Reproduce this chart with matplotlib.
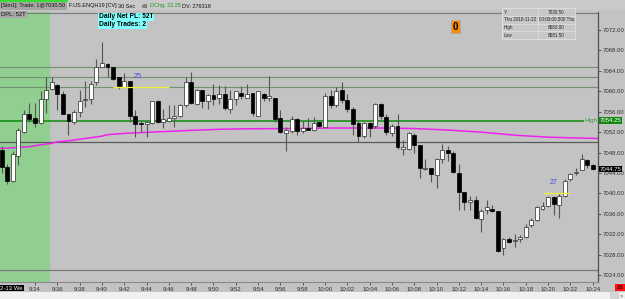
import matplotlib
matplotlib.use("Agg")
import matplotlib.pyplot as plt
import matplotlib.transforms as mtransforms
from matplotlib.patches import Rectangle

plt.rcParams["font.family"] = ["Liberation Sans", "DejaVu Sans"]

W, H = 625, 299

# 30 sec bars of F.US.ENQH19, first bar 9:31
opens = [7048.5, 7045.25, 7042.5, 7047.25, 7052.0, 7055.5, 7054.75, 7053.75, 7058.5, 7060.5,
         7061.25, 7059.5, 7055.5, 7054.0, 7056.0, 7058.25, 7058.5, 7061.75, 7064.75, 7065.25,
         7064.75, 7062.75, 7060.75, 7062.0, 7055.25, 7053.75, 7053.5, 7053.75, 7058.0, 7054.0,
         7054.25, 7054.75, 7055.25, 7057.25, 7061.75, 7057.5, 7060.25, 7058.0, 7059.25, 7058.75,
         7059.5, 7056.5, 7058.5, 7059.75, 7058.75, 7059.75, 7055.25, 7059.5, 7058.75, 7058.75,
         7054.75, 7051.75, 7052.25, 7054.5, 7052.25, 7052.75, 7052.5, 7054.0, 7053.0, 7059.0,
         7057.25, 7060.25, 7058.25, 7056.5, 7053.75, 7051.25, 7053.75, 7053.25, 7057.5, 7055.0,
         7051.75, 7053.25, 7048.75, 7048.75, 7051.5, 7049.5, 7044.75, 7045.0, 7043.5, 7046.75,
         7048.5, 7048.0, 7044.0, 7040.25, 7038.25, 7038.75, 7035.0, 7036.75, 7037.0, 7036.5,
         7029.25, 7031.0, 7030.75, 7031.0, 7031.5, 7033.75, 7034.75, 7037.0, 7037.5, 7039.25,
         7037.75, 7039.5, 7042.75, 7044.0, 7044.5, 7046.5, 7045.5]
highs = [7049.25, 7045.75, 7048.25, 7052.75, 7056.25, 7057.75, 7057.75, 7060.0, 7062.75, 7062.75,
         7061.5, 7060.0, 7055.5, 7056.25, 7060.25, 7062.0, 7062.0, 7066.25, 7069.75, 7065.5,
         7064.75, 7062.75, 7063.5, 7062.0, 7056.25, 7054.25, 7054.25, 7058.0, 7058.25, 7056.5,
         7057.25, 7057.25, 7057.5, 7062.75, 7063.75, 7060.5, 7060.25, 7059.5, 7061.5, 7061.25,
         7061.0, 7060.25, 7060.0, 7061.0, 7061.5, 7059.75, 7060.0, 7059.75, 7063.0, 7058.75,
         7056.25, 7053.0, 7055.25, 7054.75, 7054.25, 7054.75, 7055.0, 7054.0, 7059.75, 7060.25,
         7060.75, 7061.75, 7059.5, 7057.0, 7054.25, 7054.0, 7054.0, 7057.75, 7057.75, 7055.5,
         7053.5, 7055.5, 7050.5, 7052.0, 7051.75, 7049.5, 7046.75, 7045.0, 7047.0, 7049.75,
         7049.25, 7048.25, 7045.75, 7040.25, 7039.5, 7039.5, 7037.0, 7038.75, 7037.75, 7036.5,
         7031.25, 7031.5, 7032.0, 7031.75, 7034.0, 7035.25, 7037.5, 7038.25, 7039.5, 7039.5,
         7040.0, 7042.75, 7044.0, 7045.0, 7047.75, 7046.75, 7045.75]
lows = [7044.0, 7041.75, 7042.25, 7045.5, 7051.75, 7054.0, 7053.0, 7053.5, 7055.75, 7060.25,
        7056.25, 7055.5, 7051.5, 7053.5, 7055.0, 7057.0, 7057.5, 7061.25, 7064.75, 7062.75,
        7062.25, 7060.5, 7060.75, 7054.0, 7051.0, 7052.0, 7051.0, 7053.5, 7053.75, 7052.75,
        7054.0, 7053.0, 7055.0, 7057.0, 7057.5, 7057.25, 7056.75, 7056.5, 7057.25, 7057.5,
        7056.25, 7055.75, 7057.25, 7058.5, 7058.75, 7055.25, 7055.25, 7058.0, 7058.0, 7054.0,
        7051.75, 7048.25, 7051.75, 7051.5, 7051.75, 7052.5, 7052.25, 7053.0, 7053.0, 7056.75,
        7057.0, 7057.75, 7056.0, 7051.5, 7050.0, 7050.75, 7051.0, 7052.75, 7054.5, 7051.5,
        7051.25, 7048.75, 7047.5, 7048.5, 7048.0, 7043.0, 7044.5, 7042.25, 7041.0, 7046.0,
        7046.25, 7044.0, 7036.75, 7036.75, 7036.75, 7035.0, 7032.5, 7036.0, 7036.25, 7028.5,
        7028.0, 7030.25, 7029.5, 7030.5, 7031.25, 7033.5, 7034.5, 7036.75, 7037.25, 7035.75,
        7035.25, 7039.25, 7042.5, 7043.5, 7044.5, 7045.0, 7044.5]
closes = [7045.25, 7042.5, 7047.75, 7052.5, 7055.5, 7054.5, 7053.75, 7058.5, 7060.25, 7061.75,
          7059.5, 7055.5, 7054.25, 7056.0, 7058.0, 7058.5, 7061.5, 7064.75, 7065.5, 7064.75,
          7062.5, 7061.0, 7062.0, 7055.25, 7053.5, 7053.5, 7054.0, 7058.0, 7054.0, 7054.5,
          7054.75, 7055.25, 7057.25, 7061.75, 7057.75, 7060.25, 7058.0, 7059.25, 7058.5, 7059.5,
          7056.75, 7058.5, 7060.0, 7059.0, 7059.5, 7055.75, 7060.0, 7058.75, 7059.0, 7054.5,
          7052.0, 7052.5, 7054.5, 7052.25, 7052.75, 7052.5, 7053.75, 7053.25, 7059.0, 7057.25,
          7060.0, 7058.25, 7056.5, 7053.5, 7051.25, 7053.75, 7052.75, 7057.5, 7055.25, 7052.0,
          7053.25, 7049.0, 7049.0, 7051.75, 7049.5, 7045.0, 7045.0, 7043.75, 7046.75, 7048.5,
          7048.0, 7044.25, 7040.25, 7038.25, 7038.75, 7035.25, 7036.5, 7037.25, 7036.5, 7028.75,
          7031.0, 7030.5, 7030.75, 7031.5, 7033.5, 7034.75, 7037.25, 7037.5, 7039.25, 7038.0,
          7039.5, 7042.5, 7043.75, 7044.25, 7046.75, 7045.5, 7044.75]

# moving average (magenta), read at a few bars
ma_bars = [-0.3, 3, 5, 7, 9, 10, 12, 14, 16, 18, 19, 22, 25, 27, 32, 39, 44, 53, 59, 68,
           74, 80, 86, 92, 98, 106.9]
ma_vals = [7048.8, 7049.0, 7049.15, 7049.5, 7049.8, 7050.1, 7050.3, 7050.6, 7050.9, 7051.2,
           7051.5, 7051.75, 7051.9, 7052.0, 7052.25, 7052.55, 7052.65, 7052.7, 7052.8, 7052.8,
           7052.7, 7052.4, 7052.0, 7051.4, 7051.0, 7050.75]

# horizontal levels
level_prices = [7064.75, 7062.75, 7060.75]
high_price = 7054.25
mid_line = 7050.0
low_line = 7025.0
top_line = 7075.25

# bar counter marks: (label, first bar, last bar, price)
count_marks = [("25", 19.9, 30.0, 7060.75), ("27", 97.0, 102.0, 7040.0)]

tick_labels = ["9:34", "9:36", "9:38", "9:40", "9:42", "9:44", "9:46", "9:48", "9:50", "9:52",
               "9:54", "9:56", "9:58", "10:00", "10:02", "10:04", "10:06", "10:08", "10:10",
               "10:12", "10:14", "10:16", "10:18", "10:20", "10:22", "10:24"]
first_bar_time = (9, 31)
session_end_bar = 8.5

price_ticks = list(range(7024, 7073, 4))
last_price = closes[-1]

# header pieces: (text, x pixel, colour)
header_parts = [("[Sim1]  Trade: 1@7030.50", 1, "#111111"),
                ("F.US.ENQH19 [CV]", 69, "#111111"),
                ("30 Sec", 118, "#111111"),
                ("#3", 142, "#111111"),
                ("DChg: 22.25", 150, "#1f9a1f"),
                ("DV: 276318", 182, "#111111")]

BG = "#c3c3c3"
GREEN_BG = "#91cf91"


def fx(px):
    return px / W


def fy(py):
    return 1 - py / H


def bar_of(label):
    h, m = label.split(":")
    mins = int(h) * 60 + int(m) - (first_bar_time[0] * 60 + first_bar_time[1])
    return mins * 2


fig = plt.figure(figsize=(W / 100, H / 100), dpi=100, facecolor=BG)
ax = fig.add_axes([0, fy(282), fx(598), (282 - 12) / H])
ax.set_facecolor(BG)

x_left, x_right = -0.28, 106.95
ax.set_xlim(x_left, x_right)
ax.set_ylim(7022.63, 7075.53)

ax.axvspan(x_left, session_end_bar, color=GREEN_BG, zorder=0)

for p in level_prices:
    ax.axhline(p, color="#6f946f", lw=0.8, zorder=1)
ax.axhline(mid_line, color="#5a5a5a", lw=0.9, zorder=1)
ax.axhline(low_line, color="#7a7a7a", lw=0.9, zorder=1)
ax.axhline(top_line, color="#7a7a7a", lw=0.8, zorder=1)
ax.hlines(high_price, x_left, 104.5, color="#0a8a0a", lw=1.1, zorder=1)
ax.text(104.6, high_price, "High", color="#3c9c3c", fontsize=4.6, va="center", ha="left")

ax.plot(ma_bars, ma_vals, color="#ee22ee", lw=1.1, zorder=2)

# candles
xs = list(range(len(opens)))
ax.vlines(xs, lows, highs, color="#555555", lw=0.8, zorder=3)
for i in xs:
    o, c = opens[i], closes[i]
    lo = min(o, c)
    hgt = max(abs(c - o), 0.2)
    up = c >= o
    ax.bar(i, hgt, bottom=lo, width=0.7, zorder=4,
           color="white" if up else "black",
           edgecolor="#2a2a2a" if up else "black", linewidth=0.5)

for lab, b0, b1, p in count_marks:
    ax.hlines(p, b0, b1, color="#f2f23a", lw=0.9, zorder=5)
    ax.text((b0 + b1) / 2 - 0.5, p + 1.4, lab, color="#4a4ae6", fontsize=5.2,
            ha="center", va="bottom", zorder=5)

# axes look
for side in ["top", "left"]:
    ax.spines[side].set_visible(False)
ax.spines["right"].set_color("#505050")
ax.spines["right"].set_linewidth(0.9)
ax.spines["bottom"].set_color("#8a8a8a")
ax.spines["bottom"].set_linewidth(0.8)

ax.yaxis.tick_right()
ax.set_yticks(price_ticks)
ax.set_yticklabels([f"{v:.2f}" for v in price_ticks])
ax.tick_params(axis="y", labelsize=4.3, length=2, pad=1, colors="#303030", width=0.5)

ax.set_xticks([bar_of(t) for t in tick_labels])
ax.set_xticklabels(tick_labels)
ax.tick_params(axis="x", labelsize=4.3, length=2, pad=1.5, colors="#303030", width=0.5)

trans = mtransforms.blended_transform_factory(ax.transAxes, ax.transData)
ax.text(1.003, high_price, f"{high_price:.2f}", transform=trans, fontsize=4.3, color="white",
        va="center", ha="left", bbox=dict(boxstyle="square,pad=0.15", fc="#128a12", ec="none"),
        zorder=10, clip_on=False)
ax.text(1.003, last_price, f"{last_price:.2f}", transform=trans, fontsize=4.3, color="white",
        va="center", ha="left", bbox=dict(boxstyle="square,pad=0.15", fc="black", ec="none"),
        zorder=10, clip_on=False)

# header strip
fig.add_artist(Rectangle((0, fy(10)), 1, 10 / H, transform=fig.transFigure, fc="#c9c9c9", ec="none"))
fig.add_artist(Rectangle((0, fy(2)), fx(68), 2 / H, transform=fig.transFigure, fc="#33dd33", ec="none"))
fig.add_artist(Rectangle((0, fy(10)), fx(67), 8 / H, transform=fig.transFigure, fc="#a6a6a6", ec="none"))
for txt, px, col in header_parts:
    fig.text(fx(px), fy(6), txt, fontsize=4.0, va="center", color=col)
fig.text(fx(1), fy(14.5), "DPL: 52T", fontsize=4.2, va="center", color="#111111",
         bbox=dict(boxstyle="square,pad=0.2", fc="#a6a6a6", ec="none"))

fig.text(fx(99), fy(17), "Daily Net PL: 52T", fontsize=4.8, fontweight="bold", va="center",
         bbox=dict(boxstyle="square,pad=0.1", fc="#80ffff", ec="none"))
fig.text(fx(99), fy(25), "Daily Trades: 2", fontsize=4.8, fontweight="bold", va="center",
         bbox=dict(boxstyle="square,pad=0.1", fc="#80ffff", ec="none"))

# orange counter box
fig.add_artist(Rectangle((fx(451), fy(33)), fx(9), 13 / H, transform=fig.transFigure,
                         fc="#ff8a00", ec="#9ab0c8", lw=0.5))
fig.text(fx(455.5), fy(26.5), "0", fontsize=7, fontweight="bold", ha="center", va="center")

# data window
rows = [("Y", "7030.50"), ("Thu 2018-11-22", "00:00:00.500 Thu"), ("High", "6583.00"), ("Low", "6581.50")]
tx0, tx1, tsplit, ty0, rh = 502, 575, 538, 8.3, 7.7
fig.add_artist(Rectangle((fx(tx0), fy(ty0 + rh * len(rows))), fx(tx1 - tx0), rh * len(rows) / H,
                         transform=fig.transFigure, fc="#c8c8c8", ec="#e2e2e2", lw=0.6))
for k, (a, b) in enumerate(rows):
    yc = ty0 + rh * (k + 0.5)
    if k > 0:
        fig.add_artist(plt.Line2D([fx(tx0), fx(tx1)], [fy(ty0 + rh * k)] * 2,
                                  transform=fig.transFigure, color="#e2e2e2", lw=0.5))
    fig.text(fx(tx0 + 1.5), fy(yc), a, fontsize=3.3, va="center", color="#222222")
    fig.text(fx(tsplit + (10 if k != 1 else 1)), fy(yc), b, fontsize=3.3, va="center", color="#222222")
fig.add_artist(plt.Line2D([fx(tsplit)] * 2, [fy(ty0), fy(ty0 + rh * len(rows))],
                          transform=fig.transFigure, color="#e2e2e2", lw=0.5))

# bottom strip
fig.add_artist(Rectangle((0, 0), 1, 7 / H, transform=fig.transFigure, fc="#f0f0f0", ec="none"))
fig.add_artist(Rectangle((fx(610), 0), fx(9), 7 / H, transform=fig.transFigure, fc="#d4d4d4", ec="none"))
fig.text(fx(621), fy(295.5), ">", fontsize=4, va="center", ha="center", color="#444444")
fig.text(fx(0), fy(288), "2-13 We", fontsize=4.3, va="center", color="white",
         bbox=dict(boxstyle="square,pad=0.15", fc="black", ec="none"))
fig.text(fx(620), fy(287.5), "16", fontsize=4.3, va="center", ha="center", color="black",
         bbox=dict(boxstyle="square,pad=0.2", fc="#ff1010", ec="none"))

fig.savefig("out.png", dpi=100, facecolor=fig.get_facecolor())
